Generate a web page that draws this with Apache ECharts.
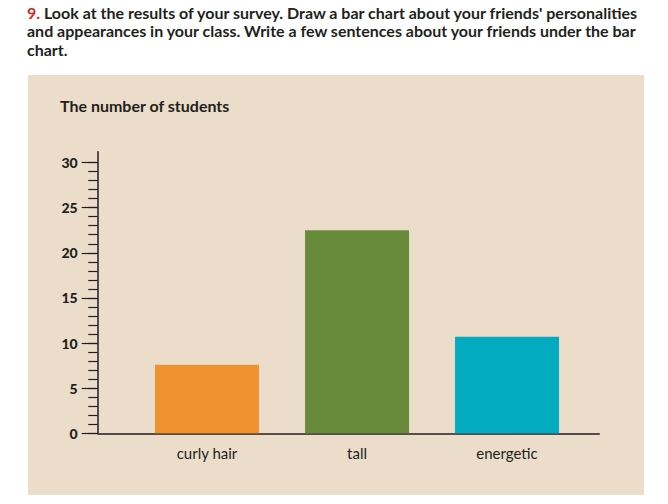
<!DOCTYPE html>
<html>
<head>
<meta charset="UTF-8">
<title>The number of students</title>
<style>
	html, body { margin: 0; padding: 0; background: #fff; }
	#chart { width: 668px; height: 504px; }
</style>
</head>
<body>
	<div id="chart"></div>

<script src="https://cdn.jsdelivr.net/npm/echarts@6/dist/echarts.min.js"></script>
<script type="text/javascript">
	// chart data
	var categories = ['curly hair', 'tall', 'energetic'];
	var categoryPos = [1, 2, 3];
	var students = [7.6, 22.5, 10.7];
	var barColors = ['#f0922f', '#678b3a', '#03abc1'];
	var majorTicks = [0, 5, 10, 15, 20, 25, 30];
	var minorTicks = [0, 1, 2, 3, 4, 5, 6, 7, 8, 9, 10, 11, 12, 13, 14, 15,
		16, 17, 18, 19, 20, 21, 22, 23, 24, 25, 26, 27, 28, 29, 30];

	var ink = '#231f20';
	var font = 'Lato';

	var barData = [];
	for (var i = 0; i < students.length; i++) {
		barData.push({
			value : [categoryPos[i], students[i]],
			itemStyle : { color : barColors[i] }
		});
	}

	var myChart = echarts.init(document.getElementById('chart'), null, { renderer : 'svg' });

	var option = {
		animation : false,
		backgroundColor : '#ffffff',
		graphic : [
			{ // beige panel
				type : 'rect',
				z : -10,
				shape : { x : 28, y : 75, width : 616, height : 420 },
				style : { fill : '#ebddca' }
			},
			{ // question text
				type : 'text',
				left : 27,
				top : 3,
				style : {
					text : '{r|9.} Look at the results of your survey. Draw a bar chart about your friends\' personalities\nand appearances in your class. Write a few sentences about your friends under the bar\nchart.',
					fill : ink,
					font : 'bold 16px ' + font,
					lineHeight : 18.5,
					rich : {
						r : { fill : '#d7262c', font : 'bold 16px ' + font }
					}
				}
			},
			{
				type : 'text',
				left : 60,
				top : 97,
				style : {
					text : 'The number of students',
					fill : ink,
					font : 'bold 16px ' + font
				}
			}
		],
		grid : {
			left : 97.7,
			right : 68.7,
			top : 151.7,
			bottom : 70.7
		},
		xAxis : {
			type : 'value',
			min : 0.2713,
			max : 3.615,
			splitLine : { show : false },
			axisLine : { show : true, onZero : false, lineStyle : { color : ink, width : 1.5 } },
			axisTick : { show : false },
			axisLabel : {
				customValues : categoryPos,
				margin : 12,
				color : ink,
				fontFamily : font,
				fontSize : 15,
				formatter : function(v) {
					return categories[categoryPos.indexOf(v)];
				}
			}
		},
		yAxis : [
			{
				type : 'value',
				position : 'left',
				min : 0,
				max : 31.2,
				splitLine : { show : false },
				axisLine : { show : true, onZero : false, lineStyle : { color : ink, width : 1.5 } },
				axisTick : {
					show : true,
					customValues : majorTicks,
					length : 16,
					lineStyle : { color : ink, width : 1.2 }
				},
				axisLabel : {
					customValues : majorTicks,
					margin : 20,
					color : ink,
					fontFamily : font,
					fontWeight : 900,
					fontSize : 14
				}
			},
			{
				type : 'value',
				position : 'left',
				min : 0,
				max : 31.2,
				splitLine : { show : false },
				axisLine : { show : false, onZero : false },
				axisTick : {
					show : true,
					customValues : minorTicks,
					length : 9.5,
					lineStyle : { color : ink, width : 1.2 }
				},
				axisLabel : { show : false }
			}
		],
		series : [{
			name : 'students',
			type : 'bar',
			barWidth : 104,
			data : barData
		}]
	};
	myChart.setOption(option);
</script>
</body>
</html>
